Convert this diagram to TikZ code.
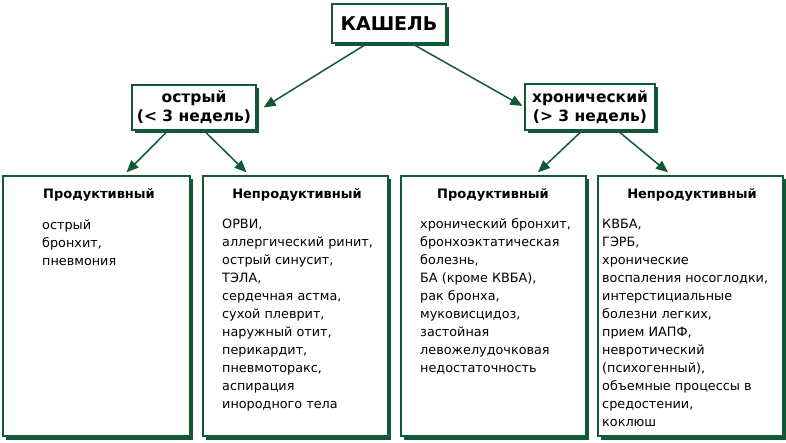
\documentclass[tikz,border=0pt]{standalone}
\usepackage{fontspec}
\setmainfont{DejaVu Sans}
\usetikzlibrary{arrows.meta,shadows,calc}
\definecolor{kgreen}{RGB}{16,88,54}
\tikzset{
  box/.style={draw=kgreen, line width=1.3pt, fill=white, inner sep=0pt,
    general shadow={fill=kgreen, shadow xshift=2.5pt, shadow yshift=-3.5pt}},
  arr/.style={draw=kgreen, line width=1.5pt, -{Triangle[length=12pt,width=10pt]}},
  ttl/.style={font=\fontsize{13}{14}\selectfont\bfseries, inner sep=0pt},
  body/.style={font=\fontsize{12.8}{18}\selectfont, align=left, inner sep=0pt, anchor=north west},
}
\begin{document}
\begin{tikzpicture}[x=1pt,y=-1pt]
\useasboundingbox (0,0) rectangle (786,443);
% top
\node[box, minimum width=114pt, minimum height=39pt, font=\fontsize{19}{20}\selectfont\bfseries] (top) at (389,23.5) {КАШЕЛЬ};
% middle
\node[box, minimum width=124pt, minimum height=45pt, align=center, font=\fontsize{15.5}{19}\selectfont\bfseries] (ml) at (194,107.5) {острый\\(< 3 недель)};
\node[box, minimum width=130pt, minimum height=46pt, align=center, font=\fontsize{15.5}{19}\selectfont\bfseries] (mr) at (590,107) {хронический\\(> 3 недель)};
% bottom boxes
\node[box, minimum width=187pt, minimum height=260pt] (b1) at (96.5,306) {};
\node[box, minimum width=185pt, minimum height=260pt] (b2) at (295.5,306) {};
\node[box, minimum width=185pt, minimum height=260pt] (b3) at (493.5,306) {};
\node[box, minimum width=185pt, minimum height=260pt] (b4) at (690.5,306) {};
% titles
\node[ttl] (t1) at (99,195) {Продуктивный};
\node[ttl] (t2) at (297,195) {Непродуктивный};
\node[ttl] (t3) at (493,195) {Продуктивный};
\node[ttl] (t4) at (692,195) {Непродуктивный};
% bodies
\node[body] (x1) at (42,220) {острый\\бронхит,\\пневмония};
\node[body] (x2) at (222,218.5) {ОРВИ,\\аллергический ринит,\\острый синусит,\\ТЭЛА,\\сердечная астма,\\сухой плеврит,\\наружный отит,\\перикардит,\\пневмоторакс,\\аспирация\\инородного тела};
\node[body] (x3) at (420,218.5) {хронический бронхит,\\бронхоэктатическая\\болезнь,\\БА (кроме КВБА),\\рак бронха,\\муковисцидоз,\\застойная\\левожелудочковая\\недостаточность};
\node[body] (x4) at (602,218.5) {КВБА,\\ГЭРБ,\\хронические\\воспаления носоглодки,\\интерстициальные\\болезни легких,\\прием ИАПФ,\\невротический\\(психогенный),\\объемные процессы в\\средостении,\\коклюш};
% arrows
\draw[arr] ($(top.south)+(-22,0)$) -- ($(ml.east)+(7,0)$);
\draw[arr] ($(top.south)+(23,0)$) -- ($(mr.west)+(-2,-1)$);
\draw[arr] ($(ml.south)+(-28,2)$) -- ($(b1.north)+(30,-3)$);
\draw[arr] ($(ml.south)+(12,2)$) -- ($(b2.north)+(-49,-3)$);
\draw[arr] ($(mr.south)+(-10,2)$) -- ($(b3.north)+(44.5,-3)$);
\draw[arr] ($(mr.south)+(30,2)$) -- ($(b4.north)+(-22.5,-3)$);
\end{tikzpicture}
\end{document}
